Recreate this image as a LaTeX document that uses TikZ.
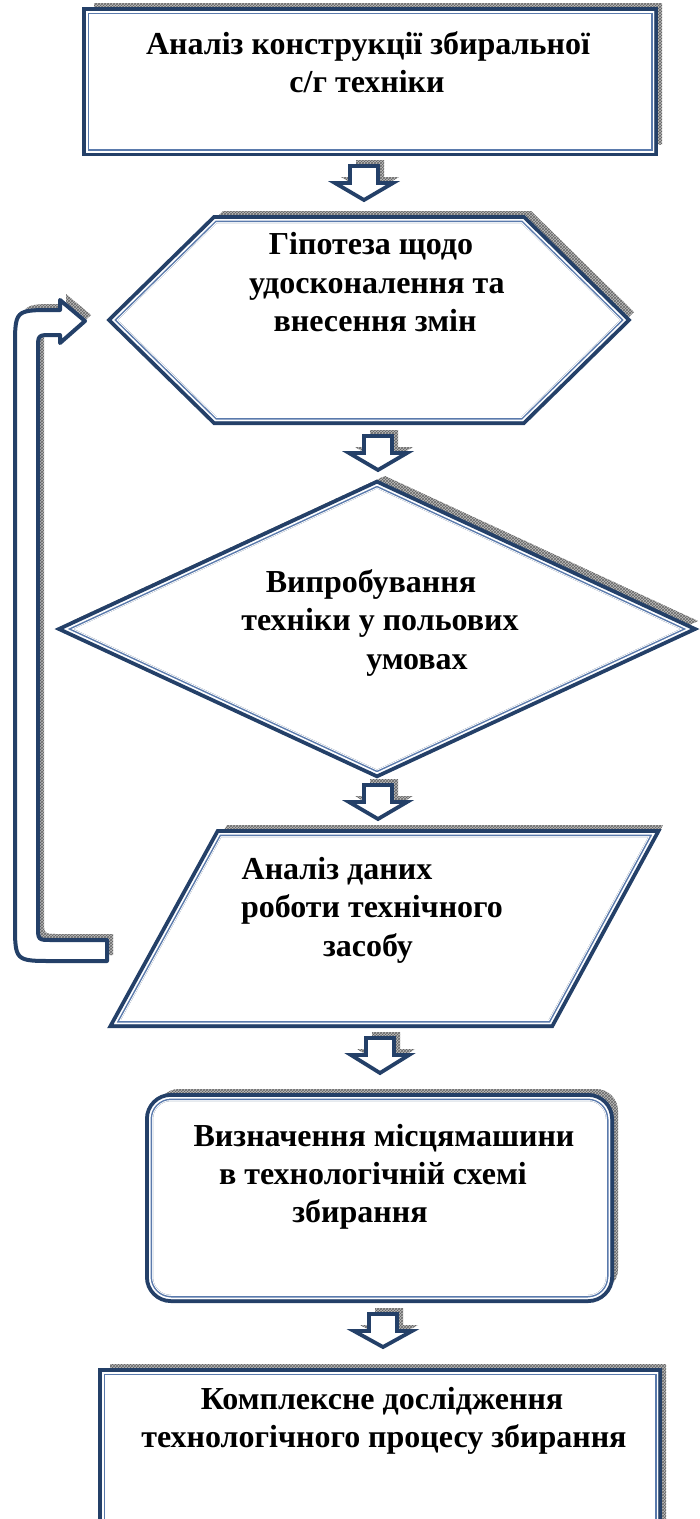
\documentclass[tikz,border=0pt]{standalone}
\usepackage{fontspec}
\setmainfont{Liberation Serif}
\usetikzlibrary{patterns}
\definecolor{darkb}{RGB}{36,64,104}
\definecolor{lightb}{RGB}{90,122,172}
\tikzset{
  shadowfill/.style={fill=gray!50, postaction={pattern=crosshatch, pattern color=black!60}},
  blockarrow/.style={draw=darkb, line width=3.8pt, fill=white, line join=miter},
  lbl/.style={font=\fontsize{32}{38}\selectfont\bfseries, anchor=mid, inner sep=0pt},
}
\newcommand\fancyshape[1]{%
  \path[shadowfill, shift={(8,-8)}] #1;
  \fill[white] #1;
  \draw[darkb, line width=8pt, line join=miter] #1;
  \begin{scope}
    \clip #1;
    \draw[white, line width=8pt, line join=miter] #1;
    \draw[lightb, line width=6pt, line join=miter] #1;
    \draw[white, line width=3pt, line join=miter] #1;
  \end{scope}}
\newcommand\downblock[5]{% name, cx, top, base, tip
  \path[shadowfill, shift={(6,-6)}] ({#2-14},#3) -- ({#2+14},#3) -- ({#2+14},#4) -- ({#2+29},#4) -- (#2,#5) -- ({#2-29},#4) -- ({#2-14},#4) -- cycle;
  \draw[blockarrow] ({#2-14},#3) coordinate (#1top) -- ({#2+14},#3) -- ({#2+14},#4) -- ({#2+29},#4) -- (#2,#5) coordinate (#1tip) -- ({#2-29},#4) -- ({#2-14},#4) -- cycle;}
\newcommand\looppath{(60,300) -- (85,321) -- (60,343) -- (60,335) -- (52,335) .. controls (38,335) .. (38,349) -- (38,926) .. controls (38,940) .. (52,940) -- (107,940) -- (107,961) -- (53,961) .. controls (15,961) .. (15,923) -- (15,348) .. controls (15,310) .. (53,310) -- (60,310) -- cycle}
\begin{document}
\begin{tikzpicture}[x=1pt, y=-1pt]
\useasboundingbox (0,0) rectangle (700,1519);

% shapes
\fancyshape{(86,11) rectangle (654,152)}
\fancyshape{(112,320) -- (215,219) -- (523,219) -- (626,320) -- (523,421) -- (215,421) -- cycle}
\fancyshape{(64,629) -- (377,484) -- (690,629) -- (377,774) -- cycle}
\fancyshape{(219,833) -- (655,833) -- (551,1024) -- (114,1024) -- cycle}
\fancyshape{[rounded corners=22pt] (149,1097) rectangle (610,1299)}
\fancyshape{(102,1372) rectangle (658,1560)}

% block arrows
\downblock{a1}{364}{166}{183}{200}
\downblock{a2}{378}{436}{453}{470}
\downblock{a3}{378}{785}{802}{819}
\downblock{a4}{380}{1038}{1055}{1073}
\downblock{a5}{383}{1314}{1331}{1347}

% loop arrow
\path[shadowfill, shift={(6,-6)}] \looppath;
\draw[darkb, line width=4pt, fill=white, line join=round] \looppath;

% texts
\node[lbl] (t1a) at (368,52) {Аналіз конструкції збиральної};
\node[lbl] (t1b) at (367,90) {с/г техніки};

\node[lbl] (t2a) at (371,252) {Гіпотеза щодо};
\node[lbl] (t2b) at (377,291) {удосконалення та};
\node[lbl] (t2c) at (375,329) {внесення змін};

\node[lbl] (t3a) at (371,590) {Випробування};
\node[lbl] (t3b) at (380,628) {техніки у польових};
\node[lbl] (t3c) at (417,667) {умовах};

\node[lbl] (t4a) at (337,877) {Аналіз даних};
\node[lbl] (t4b) at (372,915) {роботи технічного};
\node[lbl] (t4c) at (368,954) {засобу};

\node[lbl] (t5a) at (384,1144) {Визначення місцямашини};
\node[lbl] (t5b) at (373,1182) {в технологічній схемі};
\node[lbl] (t5c) at (360,1220) {збирання};

\node[lbl] (t6a) at (382,1407) {Комплексне дослідження};
\node[lbl] (t6b) at (384,1445) {технологічного процесу збирання};
\end{tikzpicture}
\end{document}
